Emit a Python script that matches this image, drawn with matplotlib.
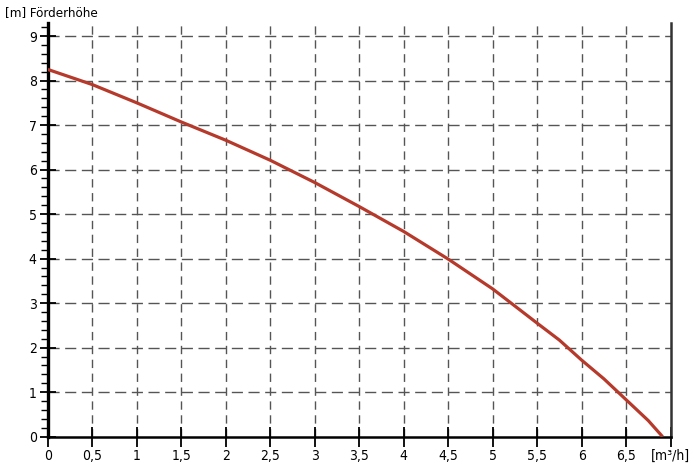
import matplotlib
matplotlib.use("Agg")
import matplotlib.pyplot as plt
from matplotlib.ticker import MultipleLocator

# values
flow = [0, 0.5, 1, 1.5, 2, 2.5, 3, 3.5, 4, 4.5, 5, 5.5, 5.75, 6, 6.25, 6.5, 6.75, 6.91]
head = [8.25, 7.91, 7.50, 7.07, 6.66, 6.21, 5.71, 5.17, 4.61, 3.99, 3.32, 2.55,
        2.17, 1.72, 1.30, 0.83, 0.36, 0.0]

x_ticks = [0, 0.5, 1, 1.5, 2, 2.5, 3, 3.5, 4, 4.5, 5, 5.5, 6, 6.5, 7]
x_labels = ["0", "0,5", "1", "1,5", "2", "2,5", "3", "3,5", "4", "4,5",
            "5", "5,5", "6", "6,5", "[m³/h]"]
y_ticks = [0, 1, 2, 3, 4, 5, 6, 7, 8, 9]

plt.rcParams['font.family'] = ['DejaVu Sans']
plt.rcParams['font.stretch'] = 'condensed'

fig = plt.figure(figsize=(7, 4.66), dpi=100)
ax = fig.add_axes([0.0683, 0.0629, 0.8897, 0.8884])

# grid
for xv in x_ticks[1:-1]:
    ax.axvline(xv, color='#555555', lw=1.0, dashes=(6, 4), zorder=1)
for yv in y_ticks[1:]:
    ax.axhline(yv, color='#555555', lw=1.0, dashes=(8, 4), zorder=1)

ax.plot(flow, head, color='#b63a2c', lw=2.3, solid_capstyle='butt', zorder=3)

ax.set_xlim(0, 7)
ax.set_ylim(0, 9.3)
ax.set_xticks(x_ticks)
ax.set_xticklabels(x_labels)
ax.set_yticks(y_ticks)
ax.yaxis.set_minor_locator(MultipleLocator(0.2))

ax.tick_params(axis='y', which='major', direction='inout', length=12, width=1.3,
               labelsize=10, pad=2)
ax.tick_params(axis='y', which='minor', direction='out', length=5, width=1.0)
ax.tick_params(axis='x', which='major', direction='inout', length=14, width=1.3,
               labelsize=10, pad=2)

ax.spines['top'].set_visible(False)
ax.spines['left'].set_linewidth(2.4)
ax.spines['bottom'].set_linewidth(1.8)
ax.spines['right'].set_linewidth(1.8)
ax.spines['right'].set_color('#333333')

fig.text(0.007, 0.973, "[m] Förderhöhe", fontsize=9.5, ha='left', va='center')

fig.savefig("out.png", dpi=100)
